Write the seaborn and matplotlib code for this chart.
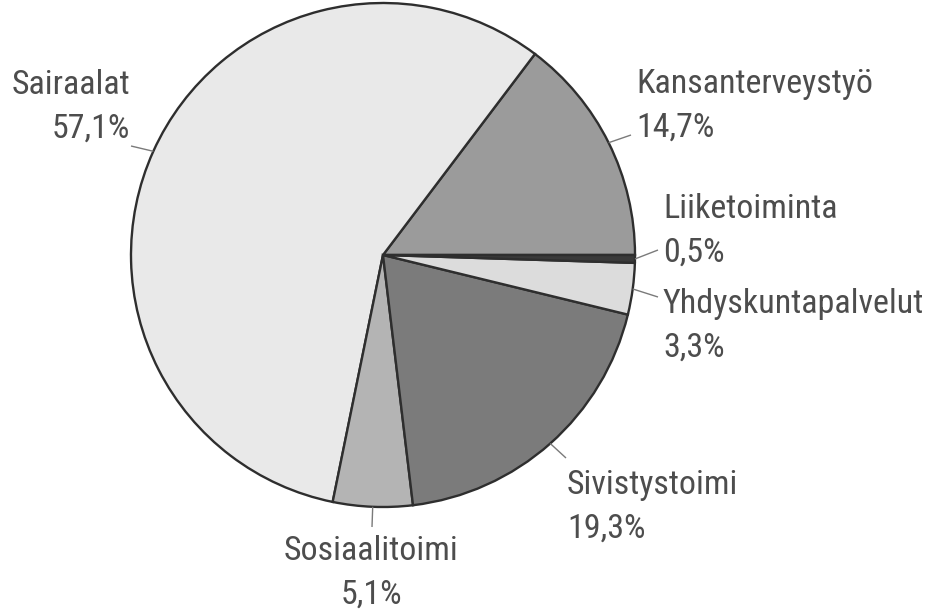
import numpy as np
import matplotlib
matplotlib.use("Agg")
import matplotlib.pyplot as plt
from matplotlib import font_manager
import seaborn as sns

W, H = 928, 611

# data, counter-clockwise from 3 o'clock
categories = ["Kansanterveystyö", "Sairaalat", "Sosiaalitoimi",
              "Sivistystoimi", "Yhdyskuntapalvelut", "Liiketoiminta"]
shares = [14.7, 57.1, 5.1, 19.3, 3.3, 0.5]
colors = ["#9b9b9b", "#e9e9e9", "#b4b4b4", "#7b7b7b", "#dcdcdc", "#3a3a3a"]

# layout (pixels from top-left): leader end, text anchor (x, name baseline), align
label_layout = {
    "Kansanterveystyö": ((631, 135), (636, 93), "left"),
    "Sairaalat": ((131, 146), (130, 94), "right"),
    "Sosiaalitoimi": ((372, 527), (371, 560), "center"),
    "Sivistystoimi": ((566, 458), (567, 494), "left"),
    "Yhdyskuntapalvelut": ((658, 297), (663, 313), "left"),
    "Liiketoiminta": ((658, 250), (663, 218), "left"),
}
LINE_GAP = 44
CENTER = (383, H - 255)
RADIUS = 252

sns.set_theme(style="white")
installed = {f.name for f in font_manager.fontManager.ttflist}
narrow = [f for f in ("Roboto Condensed", "Archivo Narrow", "IBM Plex Sans Condensed",
                      "PT Sans Narrow") if f in installed]
plt.rcParams["font.family"] = narrow[:1] + ["DejaVu Sans"]

fig = plt.figure(figsize=(W / 100, H / 100), dpi=100)
ax = fig.add_axes([0, 0, 1, 1])

wedges, _ = ax.pie(
    shares, colors=colors, startangle=0, counterclock=True,
    center=CENTER, radius=RADIUS,
    wedgeprops=dict(edgecolor="#2e2e2e", linewidth=1.7),
)
ax.set_xlim(0, W)
ax.set_ylim(0, H)
ax.set_aspect("equal")
ax.axis("off")

text_color = "#4d4d4d"
for wedge, name, val in zip(wedges, categories, shares):
    mid = np.deg2rad((wedge.theta1 + wedge.theta2) / 2)
    x0 = CENTER[0] + RADIUS * np.cos(mid)
    y0 = CENTER[1] + RADIUS * np.sin(mid)
    (ex, ey), (tx, ty), ha = label_layout[name]
    ax.plot([x0, ex], [y0, H - ey], color="#7a7a7a", lw=1.0, solid_capstyle="butt")
    pct = f"{val:.1f}%".replace(".", ",")
    ax.text(tx, H - ty, name, ha=ha, va="baseline", fontsize=24.5, color=text_color)
    ax.text(tx, H - ty - LINE_GAP, pct, ha=ha, va="baseline", fontsize=24.5, color=text_color)

fig.savefig("out.png", dpi=100)
